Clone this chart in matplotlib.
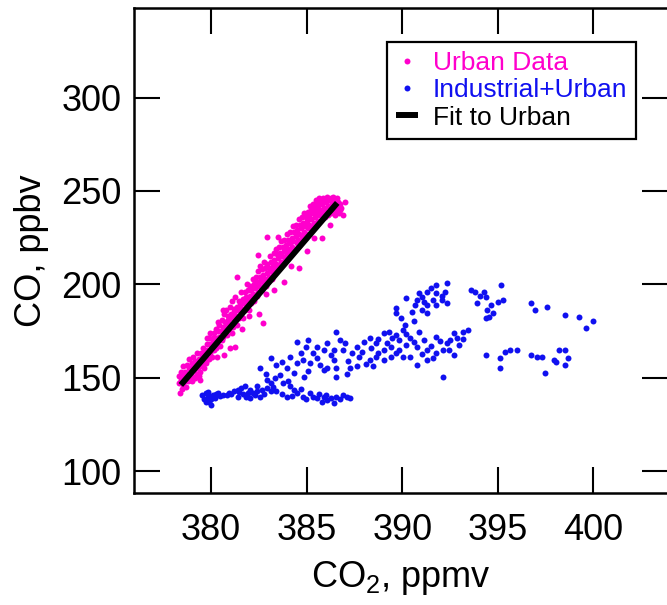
import matplotlib
matplotlib.use('Agg')
import matplotlib.pyplot as plt

plt.rcParams['font.family'] = 'Liberation Sans'
plt.rcParams['mathtext.fontset'] = 'custom'
plt.rcParams['mathtext.rm'] = 'Liberation Sans'

# urban air: CO2 (ppmv) and CO (ppbv)
urban_co2 = [
    378.31, 378.36, 378.34, 378.42, 378.47, 378.45, 378.52, 378.58, 378.55,
    378.63, 378.66, 378.68, 378.71, 378.75, 378.78, 378.82, 378.86, 378.84,
    378.91, 378.95, 378.98, 379.02, 379.05, 379.08, 379.12, 379.14, 379.17,
    379.21, 379.26, 379.28, 379.33, 379.36, 379.38, 379.41, 379.44, 379.47,
    379.52, 379.55, 379.58, 379.61, 379.64, 379.68, 379.72, 379.75, 379.77,
    379.81, 379.85, 379.88, 379.92, 379.94, 379.97, 380.02, 380.05, 380.08,
    380.11, 380.14, 380.18, 380.22, 380.25, 380.27, 380.31, 380.35, 380.38,
    380.42, 380.44, 380.47, 380.52, 380.55, 380.58, 380.61, 380.64, 380.68,
    380.72, 380.75, 380.77, 380.81, 380.84, 380.88, 380.91, 380.95, 380.97,
    381.02, 381.05, 381.08, 381.11, 381.14, 381.18, 381.22, 381.25, 381.27,
    381.31, 381.35, 381.38, 381.42, 381.44, 381.47, 381.52, 381.55, 381.58,
    381.61, 381.65, 381.67, 381.72, 381.75, 381.78, 381.81, 381.84, 381.88,
    381.91, 381.95, 381.97, 382.02, 382.05, 382.08, 382.11, 382.14, 382.18,
    382.22, 382.25, 382.27, 382.31, 382.35, 382.38, 382.42, 382.44, 382.47,
    382.52, 382.55, 382.58, 382.61, 382.65, 382.67, 382.72, 382.75, 382.78,
    382.81, 382.84, 382.88, 382.91, 382.95, 382.97, 383.02, 383.05, 383.08,
    383.11, 383.14, 383.18, 383.22, 383.25, 383.27, 383.31, 383.35, 383.38,
    383.42, 383.44, 383.47, 383.52, 383.55, 383.58, 383.61, 383.65, 383.67,
    383.72, 383.75, 383.78, 383.81, 383.84, 383.88, 383.91, 383.95, 383.97,
    384.02, 384.05, 384.08, 384.11, 384.14, 384.18, 384.22, 384.25, 384.27,
    384.31, 384.35, 384.38, 384.42, 384.44, 384.47, 384.52, 384.55, 384.58,
    384.61, 384.65, 384.67, 384.72, 384.75, 384.78, 384.81, 384.84, 384.88,
    384.91, 384.95, 384.97, 385.02, 385.05, 385.08, 385.11, 385.14, 385.18,
    385.22, 385.25, 385.27, 385.31, 385.35, 385.38, 385.42, 385.44, 385.47,
    385.52, 385.55, 385.58, 385.61, 385.65, 385.67, 385.72, 385.75, 385.78,
    385.81, 385.84, 385.88, 385.91, 385.95, 385.97, 386.02, 386.05, 386.08,
    386.11, 386.14, 386.18, 386.22, 386.25, 386.27, 386.31, 386.35, 386.38,
    386.42, 386.44, 386.47, 386.52, 386.55, 386.58, 386.61, 386.65, 386.68,
    386.72, 386.76,
    382.91, 383.52, 382.47, 381.34, 380.64, 379.78, 380.99, 381.25, 382.73,
    379.0, 379.4, 379.9, 380.3, 380.7, 381.1, 381.6, 382.0, 382.5, 382.9,
    383.3, 383.8, 384.2, 384.6, 385.0, 385.4, 385.8, 386.2, 386.6, 386.9,
    386.8, 387.0,
]
urban_co = [
    147, 142, 151, 149, 144, 153, 146, 151, 156,
    148, 153, 145, 152, 157, 148, 150, 155, 160,
    149, 153, 158, 151, 156, 161, 154, 150, 159,
    157, 152, 163, 155, 160, 151, 158, 153, 163,
    156, 161, 166, 159, 155, 164, 162, 158, 168,
    165, 160, 171, 163, 168, 174, 166, 161, 171,
    169, 174, 165, 171, 176, 166, 169, 175, 180,
    172, 178, 167, 175, 170, 181, 177, 172, 184,
    175, 180, 186, 178, 173, 183, 181, 176, 188,
    179, 184, 191, 182, 177, 187, 185, 180, 193,
    183, 188, 178, 186, 191, 182, 189, 184, 196,
    187, 192, 182, 190, 196, 186, 193, 188, 200,
    191, 197, 186, 194, 199, 190, 197, 192, 203,
    195, 200, 191, 198, 204, 194, 201, 196, 207,
    199, 204, 210, 202, 197, 208, 205, 200, 212,
    203, 209, 199, 206, 211, 201, 209, 204, 215,
    207, 212, 203, 210, 206, 217, 213, 208, 219,
    211, 216, 207, 214, 220, 210, 217, 212, 223,
    215, 220, 211, 218, 224, 214, 221, 216, 227,
    219, 224, 215, 222, 228, 218, 225, 220, 231,
    223, 228, 219, 226, 232, 222, 229, 224, 235,
    227, 232, 223, 230, 236, 226, 233, 228, 238,
    231, 236, 227, 234, 239, 230, 237, 232, 242,
    235, 240, 231, 238, 243, 233, 241, 236, 245,
    239, 244, 234, 242, 237, 246, 240, 244, 235,
    243, 238, 246, 241, 236, 245, 244, 239, 247,
    242, 237, 245, 240, 246, 238, 243, 239, 247,
    241, 245, 237, 243, 239, 246, 241, 244, 238,
    243, 240,
    225.5, 225.5, 215.7, 204.1, 186.3, 171.1, 165.8, 166.3, 179.1,
    148, 149, 160, 161, 162, 174, 176, 183, 184, 195,
    197, 201, 210, 209, 218, 225, 225, 232, 239, 237,
    241, 244,
]

# industrial + urban air
mixed_co2 = [
    391.78, 392.33, 390.86, 391.32, 391.78, 392.24, 390.77, 391.14, 391.60, 392.06,
    392.33, 390.22, 390.68, 391.32, 391.78, 389.67, 390.49, 391.32, 389.94, 389.67,
    393.62, 393.81, 394.27, 395.19, 395.28, 395.00, 394.63, 394.36, 393.90, 394.73,
    394.54, 394.36, 396.75, 396.93, 397.58, 398.50, 399.23, 399.60, 399.97,
    384.51, 384.97, 385.53, 386.08, 386.54, 386.72, 387.00, 386.45, 385.89, 385.34,
    384.79, 384.51, 385.16, 385.71, 386.08, 386.45, 386.91, 387.37, 387.64, 388.01,
    388.29, 388.65, 389.02, 389.30, 389.48, 389.67, 390.03, 390.40, 390.86, 391.14,
    390.77, 390.22, 389.85, 389.39, 389.02, 388.65, 388.29, 388.47, 389.02, 389.39,
    389.67, 390.03, 390.40, 390.77, 391.32, 391.60, 391.78, 392.15, 392.33, 392.70,
    392.89, 393.16, 393.44, 392.98, 392.70, 392.15, 391.32, 391.78, 392.52, 387.64,
    387.27, 386.54, 386.54, 385.89,
    383.13, 383.41, 383.96, 383.59, 382.95, 382.58, 382.40, 383.13, 383.78, 384.15,
    384.51, 384.79, 385.16, 385.53, 385.89, 386.26, 386.54, 386.91, 387.27, 386.45,
    386.08, 385.80,
    379.73, 379.82, 379.91, 380.01, 380.10, 380.37, 380.65, 380.93, 381.20, 381.39,
    381.57, 381.75, 382.03, 382.21, 382.40, 382.67, 382.95, 381.85, 381.39, 382.58,
    382.03, 383.13,
    394.36, 395.09, 395.37, 395.65, 396.01, 395.09, 396.75, 397.03, 397.30, 397.49,
    397.95, 398.22, 398.50, 398.68, 398.50, 398.04,
    379.55, 379.64, 379.73, 379.82, 379.91, 380.01, 380.19, 380.28, 380.47, 380.83,
    381.02, 381.48, 381.66, 381.94, 382.31, 382.77, 383.41, 383.69, 383.96, 384.24,
    384.97, 385.34, 385.62, 385.99, 386.72, 387.09, 384.33, 383.23, 384.05, 384.70,
    383.32, 384.33, 384.88, 385.07, 382.86, 383.69, 384.15, 384.70, 385.53, 385.07,
    386.26, 387.18, 387.73, 387.92, 388.38, 388.75, 389.21, 389.85, 390.22, 390.59,
    391.05, 391.51, 391.97, 392.43, 393.16, 388.75, 388.10, 387.09, 390.13, 390.59,
    391.05, 392.06, 391.51, 391.05, 394.45, 394.09,
]
mixed_co = [
    199.6, 200.5, 195.2, 196.1, 195.2, 196.1, 191.6, 190.7, 191.6, 191.6,
    189.8, 192.5, 188.9, 188.9, 188.9, 187.1, 185.4, 184.5, 181.8, 184.5,
    197.0, 196.1, 196.1, 199.6, 191.6, 190.7, 188.9, 193.4, 189.8, 184.5,
    182.7, 181.8, 189.8, 186.2, 188.0, 183.6, 182.7, 176.4, 180.5,
    169.3, 166.6, 166.6, 168.4, 174.7, 170.2, 168.4, 164.9, 164.9, 163.1,
    159.5, 157.7, 157.7, 156.8, 155.1, 159.5, 164.9, 163.1, 166.6, 169.3,
    171.1, 168.4, 173.8, 174.7, 171.1, 172.9, 175.6, 171.1, 174.7, 170.2,
    166.6, 167.5, 164.9, 166.6, 164.9, 161.3, 159.5, 156.0, 159.5, 161.3,
    163.1, 161.3, 161.3, 156.8, 159.5, 160.4, 163.1, 164.9, 168.4, 173.8,
    171.1, 174.7, 175.6, 167.5, 162.2, 150.6, 164.9, 172.0, 170.2, 156.0,
    155.1, 155.1, 150.6, 154.2,
    160.4, 156.8, 155.1, 151.5, 148.8, 155.1, 145.3, 147.0, 147.0, 145.3,
    141.7, 139.9, 141.7, 139.0, 139.9, 139.0, 139.9, 140.8, 139.0, 136.3,
    138.1, 137.2,
    141.7, 139.9, 137.2, 135.4, 140.8, 141.7, 140.8, 141.7, 142.6, 143.5,
    144.4, 145.3, 143.5, 141.7, 142.6, 143.5, 144.4, 139.9, 139.9, 139.9,
    139.0, 142.6,
    162.2, 160.4, 164.0, 164.9, 164.9, 155.1, 162.2, 161.3, 161.3, 152.4,
    159.5, 164.9, 164.9, 160.4, 156.8, 158.6,
    140.5, 138.5, 136.8, 142.5, 140.2, 138.6, 139.2, 141.0, 140.0, 140.6,
    141.3, 142.2, 141.0, 142.0, 140.5, 141.2, 142.8, 141.0, 139.5, 140.2,
    138.6, 139.8, 141.2, 140.8, 138.4, 139.6, 143.6, 145.2, 148.4, 144.0,
    150.0, 152.5, 150.2, 153.5, 152.0, 158.5, 161.0, 163.0, 160.5, 170.0,
    162.0, 158.8, 161.0, 164.0, 165.8, 170.5, 168.5, 170.0, 173.5, 169.0,
    162.5, 167.0, 169.5, 165.0, 170.5, 163.0, 157.5, 152.0, 178.0, 180.5,
    186.5, 193.5, 198.0, 193.0, 186.0, 194.0,
]

# linear fit through the urban points
fit_co2 = [378.42, 386.60]
fit_co = [146.1, 243.6]

pink = '#ff00cc'
blue = '#1010f0'

fig = plt.figure(figsize=(6.67, 6.05), dpi=100)
ax = fig.add_axes([134 / 667, 112.5 / 605, 534 / 667, 484.5 / 605])

ax.plot(urban_co2, urban_co, 'o', ms=4.3, mew=0, color=pink, label='Urban Data')
ax.plot(mixed_co2, mixed_co, 'o', ms=4.3, mew=0, color=blue, label='Industrial+Urban')
ax.plot(fit_co2, fit_co, '-', lw=4.3, color='black', solid_capstyle='butt',
        label='Fit to Urban')

ax.set_xlim(375.97, 403.9)
ax.set_ylim(88.5, 348)
ax.set_xticks([380, 385, 390, 395, 400])
ax.set_yticks([100, 150, 200, 250, 300])

for s in ax.spines.values():
    s.set_linewidth(1.8)
ax.tick_params(direction='in', length=19, width=1.5, labelsize=26,
               top=True, right=True)
ax.tick_params(axis='x', pad=15)
ax.tick_params(axis='y', pad=9)

ax.set_xlabel(r'CO$_\mathregular{2}$, ppmv', fontsize=26, labelpad=8)
ax.set_ylabel('CO, ppbv', fontsize=26, labelpad=9)

leg = ax.legend(loc='upper left', bbox_to_anchor=((387 - 134) / 534, 1 - 34 / 484.5),
                borderaxespad=0, fontsize=19, fancybox=False,
                edgecolor='black', framealpha=1, handlelength=0.83,
                handletextpad=0.55, labelspacing=0.12, borderpad=0.35)
leg.get_frame().set_linewidth(1.6)
for txt, col in zip(leg.get_texts(), [pink, blue, 'black']):
    txt.set_color(col)

fig.savefig('out.png', dpi=100)
